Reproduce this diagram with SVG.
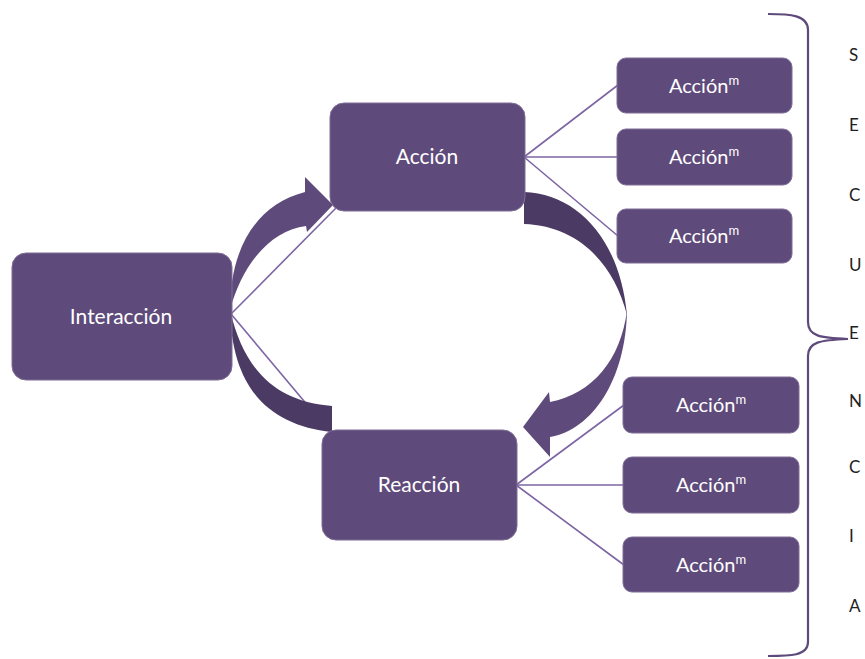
<svg xmlns="http://www.w3.org/2000/svg" width="865" height="659" viewBox="0 0 865 659">
<style>
.box{fill:#5f4b7b;stroke:#7e6d96;stroke-width:1}
.lbl{fill:#ffffff;font-family:Lato,"Open Sans","Liberation Sans",sans-serif;font-size:21px;text-anchor:middle}
.sm{font-size:20px}
.ln{stroke:#7d65a3;stroke-width:1.6;fill:none}
.lt{fill:#5f4b7b}
.dk{fill:#4b3a64}
.br{stroke:#5f4b7b;stroke-width:2.2;fill:none}
.let{fill:#222;font-family:Lato,"Open Sans","Liberation Sans",sans-serif;font-size:17px}
</style>
<rect width="865" height="659" fill="#ffffff"/>
<g id="connectors">
<line class="ln" x1="231" y1="314" x2="336" y2="208"/>
<line class="ln" x1="231" y1="314" x2="330" y2="432"/>
<line class="ln" x1="524" y1="157" x2="618" y2="85"/>
<line class="ln" x1="524" y1="157" x2="618" y2="157"/>
<line class="ln" x1="524" y1="157" x2="618" y2="236"/>
<line class="ln" x1="516" y1="485" x2="624" y2="405"/>
<line class="ln" x1="516" y1="485" x2="624" y2="485"/>
<line class="ln" x1="516" y1="485" x2="624" y2="565"/>
</g>
<g id="arrow-left">
<path class="dk" d="M230,310 C232,390 270,425 332,432 L332,406 C280,402 245,375 230,310 Z"/>
<path class="lt" d="M230,310 C230,250 255,205 305,192 L305,177 L333,205 L307,232 L306,226 C272,230 243,262 230,310 Z"/>
</g>
<g id="arrow-right">
<path class="dk" d="M524,192 C578,194 620,240 627,315 C615,268 582,226 524,224 Z"/>
<path class="lt" d="M627,310 C626,380 592,430 550,437 L550,457 L523,427 L549,392 L550,402 C592,394 621,360 627,310 Z"/>
</g>
<g id="interaccion">
<rect class="box" x="12" y="253" width="220" height="127" rx="14"/>
<text class="lbl" x="121" y="324">Interacción</text>
</g>
<g id="accion">
<rect class="box" x="330" y="103" width="195" height="108" rx="14"/>
<text class="lbl" x="427" y="164">Acción</text>
</g>
<g id="reaccion">
<rect class="box" x="322" y="430" width="195" height="110" rx="14"/>
<text class="lbl" x="419" y="492">Reacción</text>
</g>
<g id="accion-t1">
<rect class="box" x="617" y="58" width="175" height="55" rx="9"/>
<text class="lbl sm" x="704" y="93">Acción<tspan font-size="13" dy="-8">m</tspan></text>
</g>
<g id="accion-t2">
<rect class="box" x="617" y="129" width="175" height="56" rx="9"/>
<text class="lbl sm" x="704" y="164">Acción<tspan font-size="13" dy="-8">m</tspan></text>
</g>
<g id="accion-t3">
<rect class="box" x="617" y="209" width="175" height="54" rx="9"/>
<text class="lbl sm" x="704" y="243">Acción<tspan font-size="13" dy="-8">m</tspan></text>
</g>
<g id="accion-b1">
<rect class="box" x="623" y="377" width="176" height="56" rx="9"/>
<text class="lbl sm" x="711" y="412">Acción<tspan font-size="13" dy="-8">m</tspan></text>
</g>
<g id="accion-b2">
<rect class="box" x="623" y="457" width="176" height="56" rx="9"/>
<text class="lbl sm" x="711" y="492">Acción<tspan font-size="13" dy="-8">m</tspan></text>
</g>
<g id="accion-b3">
<rect class="box" x="623" y="537" width="176" height="55" rx="9"/>
<text class="lbl sm" x="711" y="572">Acción<tspan font-size="13" dy="-8">m</tspan></text>
</g>
<g id="brace">
<path class="br" d="M768,14 C790,14 808,15 808,30 L808,322 C808,336 820,338 848,339 C820,340 808,342 808,356 L808,642 C808,656 790,656 768,656"/>
</g>
<g id="letters">
<text class="let" x="849" y="61">S</text>
<text class="let" x="849" y="131">E</text>
<text class="let" x="849" y="201">C</text>
<text class="let" x="849" y="271">U</text>
<text class="let" x="849" y="339">E</text>
<text class="let" x="849" y="407">N</text>
<text class="let" x="849" y="473">C</text>
<text class="let" x="849" y="542">I</text>
<text class="let" x="849" y="612">A</text>
</g>
</svg>
